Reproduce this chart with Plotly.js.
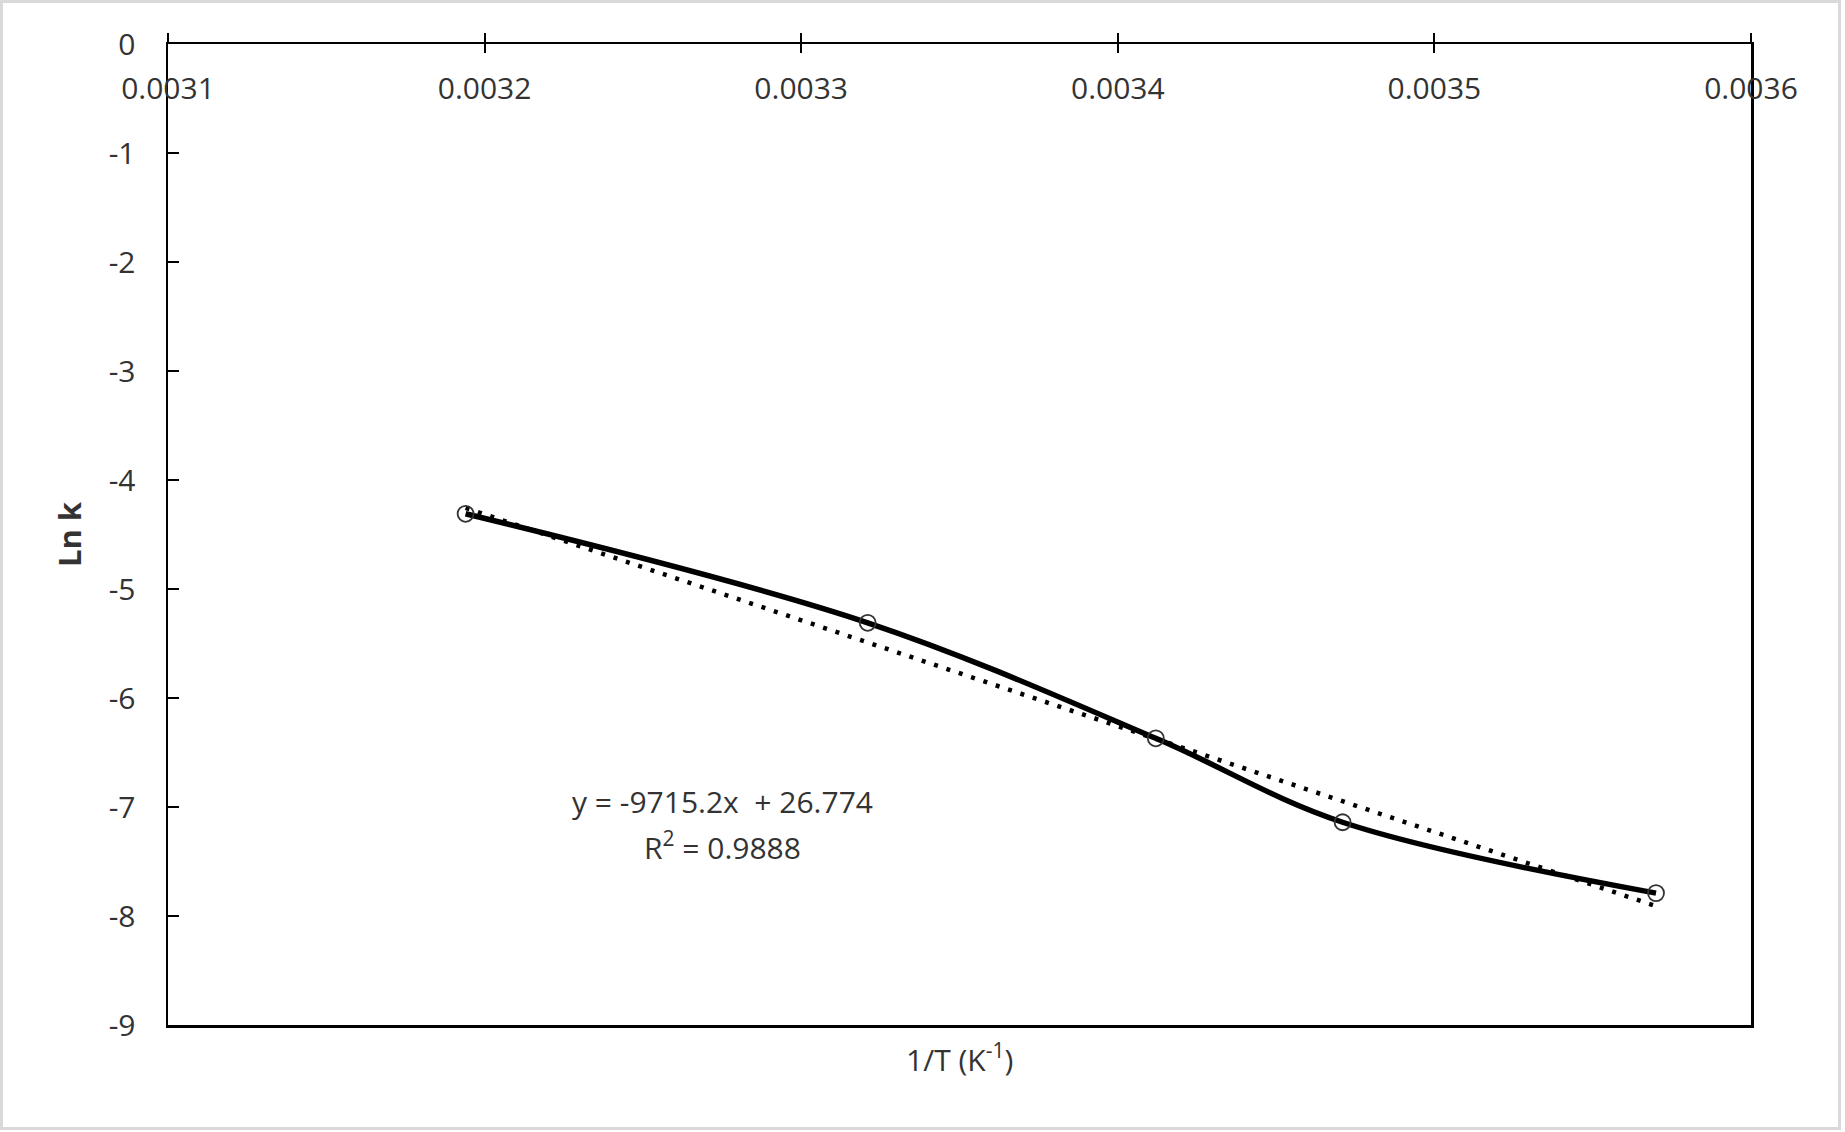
<!DOCTYPE html>
<html>
<head>
<meta charset="utf-8">
<script src="https://cdn.plot.ly/plotly-3.0.1.min.js"></script>
<style>
  html, body { margin: 0; padding: 0; background: #ffffff; }
  #wrap { position: relative; width: 1845px; height: 1132px; overflow: hidden; }
  #chart { width: 1845px; height: 1132px; }
  #frame { position: absolute; left: 0; top: 0; width: 1835px; height: 1124px;
           border: 3px solid #d9d9d9; pointer-events: none; }
</style>
</head>
<body>
<div id="wrap"><div id="chart"></div><div id="frame"></div></div>
<script>
// Data
const invT = [0.003194, 0.003321, 0.003412, 0.003471, 0.003570];   // 1/T (K^-1)
const lnK  = [-4.31, -5.31, -6.37, -7.14, -7.79];                  // Ln k
const trendSlope = -9715.2;
const trendIntercept = 26.774;
const trendR2 = 0.9888;
const xTickVals = [0.0031, 0.0032, 0.0033, 0.0034, 0.0035, 0.0036];
const xTickText = ["0.0031", "0.0032", "0.0033", "0.0034", "0.0035", "0.0036"];
const yTickVals = [0, -1, -2, -3, -4, -5, -6, -7, -8, -9];
const yTickText = ["0", "-1", "-2", "-3", "-4", "-5", "-6", "-7", "-8", "-9"];

const FONT = "Open Sans, Noto Sans, sans-serif";
const TXT = "#333333";

const trendX = [invT[0], invT[invT.length - 1]];
const trendY = trendX.map(x => trendSlope * x + trendIntercept);

const traces = [
  {
    x: trendX, y: trendY, type: "scatter", mode: "lines",
    line: { color: "#000000", width: 4.5, dash: "4px,9px" },
    hoverinfo: "skip", showlegend: false
  },
  {
    x: invT, y: lnK, type: "scatter", mode: "lines+markers",
    line: { color: "#000000", width: 5.5, shape: "spline", smoothing: 1 },
    marker: { symbol: "circle-open", size: 16, color: "#333333", line: { width: 1.8, color: "#333333" } },
    showlegend: false
  },
  {
    // helper trace so the second (inward tick) x axis is drawn
    x: [xTickVals[0]], y: [null], xaxis: "x2", yaxis: "y", type: "scatter", mode: "markers",
    hoverinfo: "skip", showlegend: false
  }
];

const layout = {
  width: 1845, height: 1132,
  paper_bgcolor: "#ffffff", plot_bgcolor: "#ffffff",
  margin: { l: 168, r: 94, t: 44, b: 107, pad: 0 },
  font: { family: FONT, size: 30, color: TXT },
  showlegend: false,
  xaxis: {
    range: [0.0031, 0.0036], side: "top", anchor: "y",
    tickmode: "array", tickvals: xTickVals, ticktext: xTickText,
    ticks: "outside", ticklen: 9, tickwidth: 2, tickcolor: "#000000",
    ticklabelposition: "inside", ticklabelstandoff: 37, ticklabeloverflow: "allow",
    tickfont: { family: FONT, size: 30, color: TXT },
    showline: true, linecolor: "#000000", linewidth: 2.5, mirror: true,
    showgrid: false, zeroline: false
  },
  xaxis2: {
    matches: "x", overlaying: "x", side: "top", anchor: "y",
    tickmode: "array", tickvals: xTickVals,
    ticks: "inside", ticklen: 9, tickwidth: 2, tickcolor: "#000000",
    showticklabels: false, showline: false, showgrid: false, zeroline: false
  },
  yaxis: {
    range: [-9, 0],
    tickmode: "array", tickvals: yTickVals, ticktext: yTickText,
    ticks: "inside", ticklen: 11, tickwidth: 2, tickcolor: "#000000",
    ticklabelstandoff: 24,
    tickfont: { family: FONT, size: 30, color: TXT },
    showline: true, linecolor: "#000000", linewidth: 2.5, mirror: true,
    showgrid: false, zeroline: false,
    title: { text: "<b>Ln k</b>", font: { family: FONT, size: 31, color: TXT }, standoff: 18 }
  },
  annotations: [
    {
      xref: "paper", yref: "paper", x: 0.5, y: -0.034, xanchor: "center", yanchor: "middle",
      text: "1/T (K<sup>-1</sup>)", showarrow: false,
      font: { family: FONT, size: 30, color: TXT }
    },
    {
      xref: "x", yref: "y", x: 0.003275, y: -6.95, xanchor: "center", yanchor: "middle",
      text: "y = -" + Math.abs(trendSlope).toFixed(1) + "x  + " + trendIntercept.toFixed(3),
      showarrow: false, font: { family: FONT, size: 30, color: TXT }
    },
    {
      xref: "x", yref: "y", x: 0.003275, y: -7.36, xanchor: "center", yanchor: "middle",
      text: "R<sup>2</sup> = " + trendR2.toFixed(4),
      showarrow: false, font: { family: FONT, size: 30, color: TXT }
    }
  ]
};

Plotly.newPlot("chart", traces, layout, { displayModeBar: false, staticPlot: true });
</script>
</body>
</html>
